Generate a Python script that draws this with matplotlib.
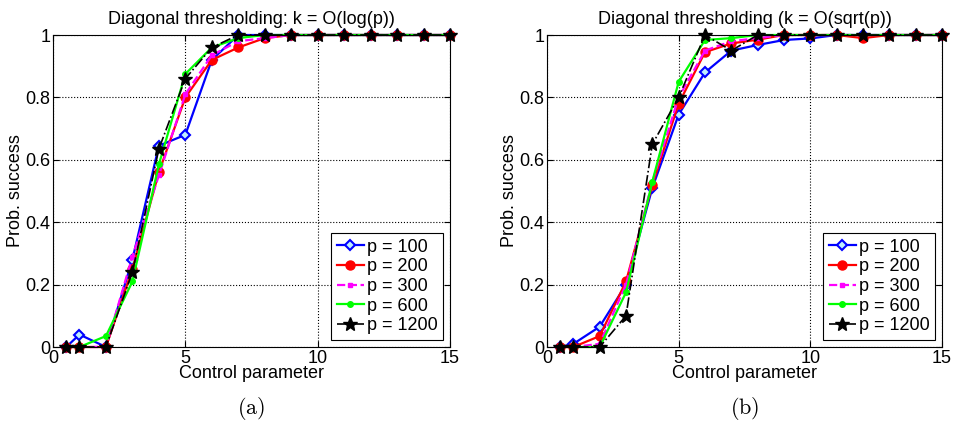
import matplotlib
matplotlib.use("Agg")
import matplotlib.pyplot as plt

plt.rcParams['font.family'] = ['Liberation Sans', 'DejaVu Sans']
plt.rcParams['mathtext.fontset'] = 'cm'

# control parameter values
x = [0.5, 1, 2, 3, 4, 5, 6, 7, 8, 9, 10, 11, 12, 13, 14, 15]

# (a) k = O(log(p))
log_p100 = [0, 0.04, 0.0, 0.28, 0.645, 0.68, 0.92, 1.0, 1.0, 1, 1, 1, 1, 1, 1, 1]
log_p200 = [0, 0, 0.0, 0.25, 0.56, 0.80, 0.92, 0.96, 0.99, 1, 1, 1, 1, 1, 1, 1]
log_p300 = [0, 0, 0.0, 0.29, 0.55, 0.81, 0.935, 0.98, 0.99, 1, 1, 1, 1, 1, 1, 1]
log_p600 = [0, 0, 0.035, 0.21, 0.585, 0.875, 0.96, 0.99, 1.0, 1, 1, 1, 1, 1, 1, 1]
log_p1200 = [0, 0, 0.0, 0.24, 0.635, 0.86, 0.96, 1.0, 1.0, 1, 1, 1, 1, 1, 1, 1]

# (b) k = O(sqrt(p))
sq_p100 = [0, 0.01, 0.065, 0.20, 0.51, 0.745, 0.88, 0.95, 0.968, 0.984, 0.989, 1, 1, 1, 1, 1]
sq_p200 = [0, 0, 0.035, 0.21, 0.52, 0.78, 0.945, 0.973, 0.985, 1, 1, 1, 0.99, 1, 1, 1]
sq_p300 = [0, 0, 0.01, 0.20, 0.53, 0.80, 0.95, 0.98, 0.99, 1, 1, 1, 1, 1, 1, 1]
sq_p600 = [0, 0, 0.0, 0.175, 0.53, 0.85, 0.984, 0.99, 1.0, 1, 1, 1, 1, 1, 1, 1]
sq_p1200 = [0, 0, 0.0, 0.10, 0.65, 0.80, 1.0, 0.95, 1.0, 1, 1, 1, 1, 1, 1, 1]

labels = ["p = 100", "p = 200", "p = 300", "p = 600", "p = 1200"]
titles = ["Diagonal thresholding: k = O(log(p))", "Diagonal thresholding (k = O(sqrt(p))"]
captions = [r"$\mathrm{(a)}$", r"$\mathrm{(b)}$"]

styles = [
    dict(color="#0000ff", linestyle="-", marker="D", markersize=5, markerfacecolor="#bfefff", markeredgewidth=1.5),
    dict(color="#ff0000", linestyle="-", marker="o", markersize=6.5),
    dict(color="#ff00ff", linestyle="--", marker="s", markersize=3),
    dict(color="#00ff00", linestyle="-", marker="o", markersize=4),
    dict(color="black", linestyle="-.", marker="*", markersize=10, linewidth=1.2),
]

fig = plt.figure(figsize=(9.59, 4.25), dpi=100)
ax1 = fig.add_axes([53 / 959, 1 - 347 / 425, 397 / 959, 312 / 425])
ax2 = fig.add_axes([547 / 959, 1 - 347 / 425, 395 / 959, 312 / 425])

fs = 13
for ax, series, title, cap in zip([ax1, ax2],
                                  [[log_p100, log_p200, log_p300, log_p600, log_p1200],
                                   [sq_p100, sq_p200, sq_p300, sq_p600, sq_p1200]],
                                  titles, captions):
    for y, lab, st in zip(series, labels, styles):
        kw = dict(linewidth=1.6)
        kw.update(st)
        ax.plot(x, y, label=lab, clip_on=False, **kw)
    ax.set_xlim(0, 15)
    ax.set_ylim(0, 1)
    ax.set_xticks([0, 5, 10, 15])
    ax.set_yticks([0, 0.2, 0.4, 0.6, 0.8, 1])
    ax.set_yticklabels(["0", "0.2", "0.4", "0.6", "0.8", "1"])
    ax.tick_params(direction="in", labelsize=fs, length=4, top=True, right=True, pad=2)
    ax.grid(True, linestyle=":", color="black", linewidth=0.8)
    ax.set_axisbelow(True)
    ax.set_title(title, fontsize=fs, pad=8)
    ax.set_xlabel("Control parameter", fontsize=fs, labelpad=-1)
    ax.set_ylabel("Prob. success", fontsize=fs, labelpad=1)
    leg = ax.legend(loc="lower right", fontsize=fs, fancybox=False, framealpha=1,
                    edgecolor="black", handlelength=1.5, handletextpad=0.15,
                    borderpad=0.3, labelspacing=0.15, borderaxespad=0.4)
    leg.get_frame().set_linewidth(0.8)
    bb = ax.get_position()
    fig.text((bb.x0 + bb.x1) / 2, 1 - 408 / 425, cap, ha="center", va="center", fontsize=16)

plt.savefig("out.png", dpi=100)
